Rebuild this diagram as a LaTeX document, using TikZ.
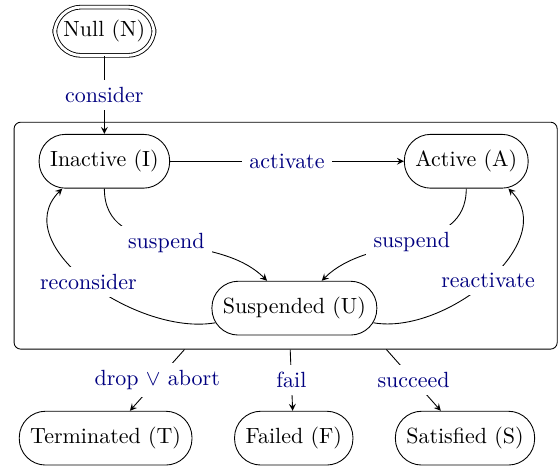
\documentclass[tikz,border=0pt]{standalone}
\usepackage{amsmath}
\usepackage{amssymb}
\usepackage{tikz}

\begin{document}
\begin{tikzpicture}[>=stealth,
                        state/.style = {draw, rectangle, rounded corners = 12pt, minimum height = 24.5pt, inner xsep = 5pt},
                        start/.style = {state, double, double distance = 1.3pt, minimum height = 22pt, inner xsep = 4pt},
                        frame/.style = {draw, rectangle, rounded corners = 3pt, minimum width = 8.69cm, minimum height = 3.63cm},
                        lbl/.style = {fill = white, text = blue!50!black}]
    \useasboundingbox (0, 0) rectangle (8.96, -7.49);
    \node [frame] (box) at (4.57, -3.77){};
    \node [start] (n) at (1.67, -0.50){Null (N)};
    \node [state] (i) at (1.67, -2.58){Inactive (I)};
    \node [state] (a) at (7.46, -2.58){Active (A)};
    \node [state] (u) at (4.71, -4.93){Suspended (U)};
    \node [state] (t) at (1.69, -7.01){Terminated (T)};
    \node [state] (f) at (4.70, -7.01){Failed (F)};
    \node [state] (s) at (7.44, -7.01){Satisfied (S)};
    \draw [->] (n)--(i) node[midway,lbl] {consider};
    \draw [->] (i)--(a) node[midway,lbl] {activate};
    \draw [->] (i.south) to[out=-90,in=135] node[lbl] {suspend} (u.135);
    \draw [->] (a.south) to[out=-90,in=45] node[lbl] {suspend} (u.45);
    \draw [->] ([xshift=1.8pt]u.190) to[out=190,in=225] node[lbl] {reconsider} (i.213);
    \draw [->] ([xshift=-1.8pt]u.-10) to[out=-10,in=-45] node[lbl] {reactivate} (a.-33);
    \draw [->] (box)--(t) node[midway,lbl] {drop $\vee$ abort};
    \draw [->] (box)--(f) node[midway,lbl] {fail};
    \draw [->] (box)--(s) node[midway,lbl] {succeed};
  \end{tikzpicture}
\end{document}
